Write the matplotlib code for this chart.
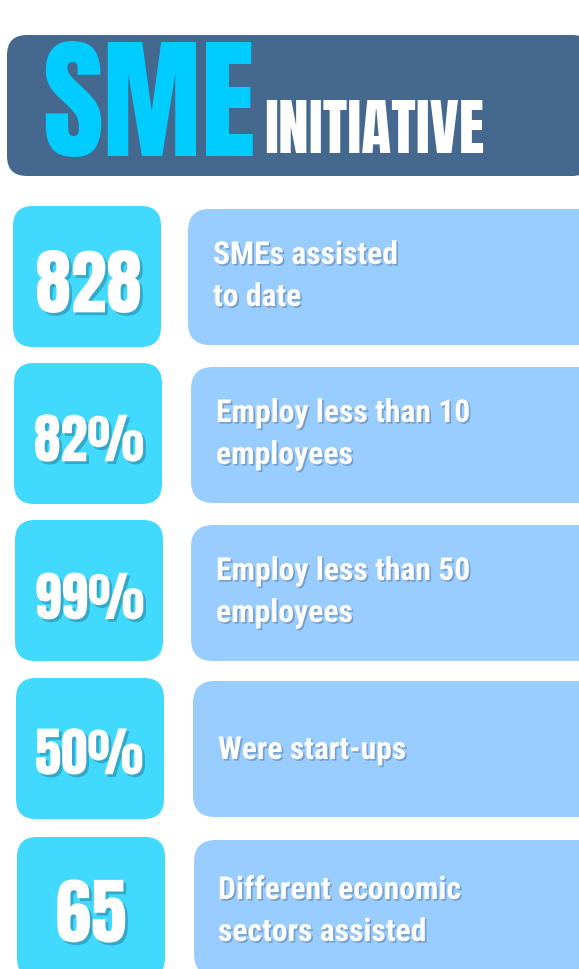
import os
import matplotlib
matplotlib.use("Agg")
import matplotlib.pyplot as plt
from matplotlib import font_manager as fm
from matplotlib.patches import FancyBboxPatch
from matplotlib.textpath import TextPath
import matplotlib.patheffects as pe

# Dados do infográfico
titulo = "SME"
subtitulo = "INITIATIVE"
numeros = ["828", "82%", "99%", "50%", "65"]
descricoes = [
    "SMEs assisted\nto date",
    "Employ less than 10\nemployees",
    "Employ less than 50\nemployees",
    "Were start-ups",
    "Different economic\nsectors assisted",
]

# Cores
cor_cabecalho = "#44688E"
cor_titulo = "#00CCFF"
cor_numero = "#42D9FF"
cor_caixa = "#99CCFF"

# Procurando fontes condensadas instaladas (pelo nome do arquivo)
arquivos = {}
for f in fm.findSystemFonts():
    arquivos[os.path.basename(f)] = f
for f in fm.fontManager.ttflist:
    arquivos.setdefault(os.path.basename(f.fname), f.fname)


def escolhe_fonte(nomes, padrao):
    for n in nomes:
        if n in arquivos:
            return fm.FontProperties(fname=arquivos[n])
    return fm.FontProperties(family=padrao, weight="bold")


fonte_grande = escolhe_fonte([
    "Anton-Regular.ttf", "BebasNeue-Regular.ttf", "FjallaOne-Regular.ttf",
    "RobotoCondensed-Bold.ttf", "DejaVuSansCondensed-Bold.ttf",
], "DejaVu Sans")

fonte_texto = escolhe_fonte([
    "LiberationSansNarrow-Bold.ttf", "RobotoCondensed-Bold.ttf",
    "PT_Sans-Narrow-Web-Bold.ttf", "LiberationSans-Bold.ttf",
], "Liberation Sans")


# Função que escreve um texto ocupando uma caixa (em pixels)
def escreve(ax, texto, fonte, x0, y0, x1, y1, cor, vertical="centro", efeitos=None):
    ext = TextPath((0, 0), texto, size=100, prop=fonte).get_extents()
    esc = min((x1 - x0) / ext.width, (y1 - y0) / ext.height)
    fp = fonte.copy()
    fp.set_size(72 * esc)
    altura = ext.height * esc
    if vertical == "centro":
        baixo = (y0 + y1) / 2 + altura / 2
    else:
        baixo = y1
    base = baixo + ext.y0 * esc
    ax.text((x0 + x1) / 2, base, texto, fontproperties=fp, color=cor,
            ha="center", va="baseline", path_effects=efeitos)


fig = plt.figure(figsize=(5.79, 9.70), dpi=100)
ax = fig.add_axes([0, 0, 1, 1])
ax.set_xlim(0, 579)
ax.set_ylim(970, 0)
ax.axis("off")

# Cabeçalho
ax.add_patch(FancyBboxPatch((7, 36), 585, 141, boxstyle="round,pad=0,rounding_size=20",
                            facecolor=cor_cabecalho, edgecolor="none"))
escreve(ax, titulo, fonte_grande, 45, 15, 253, 157, cor_titulo, vertical="baixo")
escreve(ax, subtitulo, fonte_grande, 266, 99, 483, 153, "white", vertical="baixo")

# Posições das caixas
esq_num = [13, 14, 15, 16, 17]
topo_num = [207, 364, 521, 679, 838]
esq_caixa = [188, 191, 191, 193, 194]
topo_caixa = [210, 368, 526, 682, 841]
# Área ocupada por cada número (tinta)
area_num = [(37, 247, 140, 318), (35, 403, 143, 475), (36, 561, 143, 633),
            (36, 717, 142, 788), (57, 877, 125, 947)]
x_texto = [213, 216, 216, 218, 218]
base_texto = [265, 423, 581, 760, 900]

# Tamanho da fonte das descrições a partir de uma linha de referência
ref = TextPath((0, 0), "Employ less than 10", size=100, prop=fonte_texto).get_extents()
cap = TextPath((0, 0), "E", size=100, prop=fonte_texto).get_extents()
esc_txt = min(251 / ref.width, 23 / cap.height)
fp_txt = fonte_texto.copy()
fp_txt.set_size(72 * esc_txt)

sombra_num = [pe.SimplePatchShadow(offset=(2, -2), shadow_rgbFace="#1f6f88", alpha=0.45), pe.Normal()]
sombra_txt = [pe.SimplePatchShadow(offset=(1.2, -1.2), shadow_rgbFace="#4a6a8a", alpha=0.45), pe.Normal()]

for i in range(len(numeros)):
    # Caixa do número
    ax.add_patch(FancyBboxPatch((esq_num[i], topo_num[i]), 148, 141,
                                boxstyle="round,pad=0,rounding_size=20",
                                facecolor=cor_numero, edgecolor="none"))
    # Caixa da descrição
    ax.add_patch(FancyBboxPatch((esq_caixa[i], topo_caixa[i]), 600 - esq_caixa[i], 136,
                                boxstyle="round,pad=0,rounding_size=22",
                                facecolor=cor_caixa, edgecolor="none"))
    x0, y0, x1, y1 = area_num[i]
    escreve(ax, numeros[i], fonte_grande, x0, y0, x1, y1, "white", efeitos=sombra_num)
    # Linhas da descrição
    for j, linha in enumerate(descricoes[i].split("\n")):
        ax.text(x_texto[i], base_texto[i] + 42 * j, linha, fontproperties=fp_txt,
                color="white", ha="left", va="baseline", path_effects=sombra_txt)

fig.savefig("out.png", dpi=100)
